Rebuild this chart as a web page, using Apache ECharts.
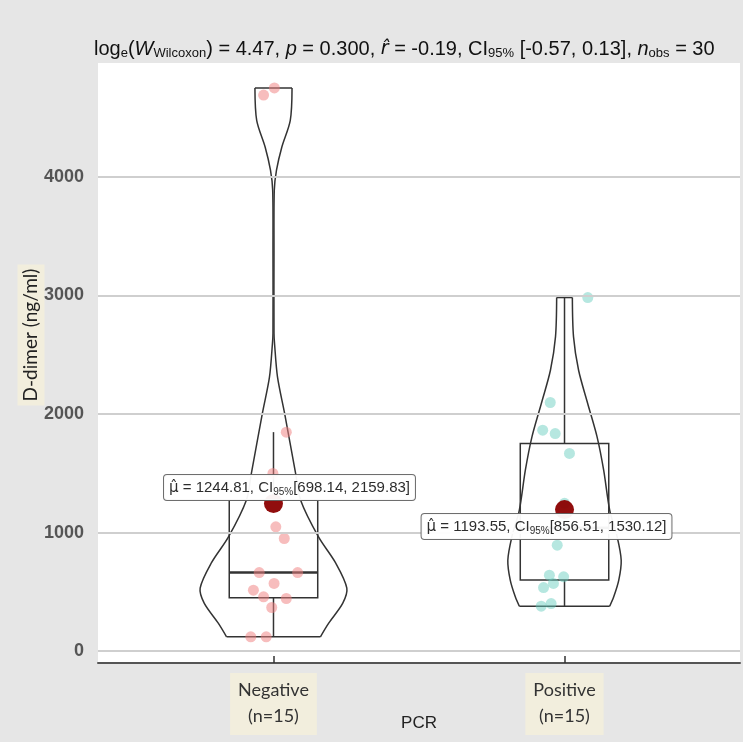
<!DOCTYPE html>
<html>
<head>
<meta charset="utf-8">
<script src="https://cdn.jsdelivr.net/npm/echarts@6/dist/echarts.min.js"></script>
<style>
html, body { margin: 0; padding: 0; background: #e6e6e6; }
#main { width: 743px; height: 742px; }
</style>
</head>
<body>
<div id="main"></div>
<script>
// groups on the x axis (positions 1 and 2)
var groupPos = [1, 2];
var groupLabels = ['Negative\n(n=15)', 'Positive\n(n=15)'];
var yTicks = [0, 1000, 2000, 3000, 4000];

// observations (ng/ml) and their jittered x position
var negValues = [4690, 4750, 1847, 1498, 1048, 950, 663, 663, 571, 514, 458, 444, 368, 121, 121];
var negJitter = [0.966, 1.003, 1.044, 0.998, 1.008, 1.037, 0.951, 1.083, 1.002, 0.931, 0.966, 1.044, 0.994, 0.922, 0.975];
var posValues = [2982, 2097, 1863, 1835, 1667, 1247, 1130, 1040, 894, 641, 627, 571, 536, 401, 379];
var posJitter = [2.080, 1.951, 1.925, 1.968, 2.017, 2.0, 2.0, 2.0, 1.975, 1.948, 1.997, 1.962, 1.928, 1.954, 1.920];

// group means and 95% CI
var means = [1244.81, 1193.55];
var ciLow = [698.14, 856.51];
var ciHigh = [2159.83, 1530.12];

// violin outline: value and relative half width (top -> bottom)
var negViolinY = [4750, 4477, 4252, 4056, 3887, 3381, 2681, 2597, 2310, 2007, 1501, 1273, 961, 742, 531, 405, 236, 121];
var negViolinW = [0.253, 0.229, 0.114, 0.041, 0.011, 0.007, 0.007, 0.014, 0.055, 0.151, 0.301, 0.37, 0.616, 0.849, 1.0, 0.945, 0.753, 0.64];
var posViolinY = [2982, 2650, 2369, 2091, 1807, 1526, 1189, 964, 767, 599, 458, 379];
var posViolinW = [0.107, 0.123, 0.192, 0.315, 0.444, 0.534, 0.616, 0.718, 0.773, 0.74, 0.671, 0.616];

var VIOLIN_HALF = 0.252;
var BOX_HALF = 0.152;

function quantile(arr, p) {
  var s = arr.slice().sort(function (a, b) { return a - b; });
  var h = (s.length - 1) * p;
  var lo = Math.floor(h);
  return s[lo] + (h - lo) * ((s[lo + 1] !== undefined ? s[lo + 1] : s[lo]) - s[lo]);
}

function boxStats(arr) {
  var q1 = quantile(arr, 0.25), med = quantile(arr, 0.5), q3 = quantile(arr, 0.75);
  var iqr = q3 - q1;
  var inside = arr.filter(function (v) { return v >= q1 - 1.5 * iqr && v <= q3 + 1.5 * iqr; });
  return [Math.min.apply(null, inside), q1, med, q3, Math.max.apply(null, inside)];
}

var stats = [boxStats(negValues), boxStats(posValues)];
var violinY = [negViolinY, posViolinY];
var violinW = [negViolinW, posViolinW];

var lineCol = '#333';

function renderGroup(params, api) {
  var i = params.dataIndex;
  var c = api.value(0);
  var vy = violinY[i], vw = violinW[i];
  var left = [], right = [];
  for (var k = 0; k < vy.length; k++) {
    left.push(api.coord([c - vw[k] * VIOLIN_HALF, vy[k]]));
    right.push(api.coord([c + vw[k] * VIOLIN_HALF, vy[k]]));
  }
  var st = stats[i];
  var bl = api.coord([c - BOX_HALF, st[3]]);
  var br = api.coord([c + BOX_HALF, st[1]]);
  var m1 = api.coord([c - BOX_HALF, st[2]]);
  var m2 = api.coord([c + BOX_HALF, st[2]]);
  var wTop = api.coord([c, st[4]]);
  var wQ3 = api.coord([c, st[3]]);
  var wQ1 = api.coord([c, st[1]]);
  var wBot = api.coord([c, st[0]]);
  var ls = { stroke: lineCol, lineWidth: 1.5, fill: null };
  var n = vy.length - 1;
  return {
    type: 'group',
    children: [
      { type: 'polyline', shape: { points: left, smooth: 0.3 }, style: ls },
      { type: 'polyline', shape: { points: right, smooth: 0.3 }, style: ls },
      { type: 'line', shape: { x1: left[0][0], y1: left[0][1], x2: right[0][0], y2: right[0][1] }, style: ls },
      { type: 'line', shape: { x1: left[n][0], y1: left[n][1], x2: right[n][0], y2: right[n][1] }, style: ls },
      { type: 'rect', shape: { x: bl[0], y: bl[1], width: br[0] - bl[0], height: br[1] - bl[1] }, style: ls },
      { type: 'line', shape: { x1: m1[0], y1: m1[1], x2: m2[0], y2: m2[1] }, style: { stroke: lineCol, lineWidth: 2.5 } },
      { type: 'line', shape: { x1: wTop[0], y1: wTop[1], x2: wQ3[0], y2: wQ3[1] }, style: ls },
      { type: 'line', shape: { x1: wQ1[0], y1: wQ1[1], x2: wBot[0], y2: wBot[1] }, style: ls }
    ]
  };
}

function zipPts(xs, ys) {
  return xs.map(function (x, k) { return [x, ys[k]]; });
}

var labelRich = {
  h: { fontSize: 15, color: '#222', fontFamily: 'DejaVu Sans' },
  t: { fontSize: 15, color: '#222', fontFamily: 'Liberation Sans' },
  s: { fontSize: 10, color: '#222', fontFamily: 'Liberation Sans', padding: [8, 0, 0, 0] }
};

var meanOffsets = [[16, -16], [-18, 17]];

var chart = echarts.init(document.getElementById('main'));
var option = {
  backgroundColor: '#e6e6e6',
  animation: false,
  title: {
    left: 89,
    top: 33,
    text: '{n|log}{s|e}{n|(}{i|W}{s|Wilcoxon}{n|) = 4.47, }{i|p}{n| = 0.300, }{h|r\u0302}{n| = -0.19, CI}{s|95%}{n| [-0.57, 0.13], }{i|n}{s|obs}{n| = 30}',
    textStyle: {
      fontWeight: 'normal',
      rich: {
        n: { fontSize: 20, color: '#111', fontWeight: 'normal', fontFamily: 'Liberation Sans' },
        i: { fontSize: 20, color: '#111', fontWeight: 'normal', fontFamily: 'Liberation Sans', fontStyle: 'italic' },
        h: { fontSize: 19, color: '#111', fontWeight: 'normal', fontFamily: 'DejaVu Sans', fontStyle: 'italic' },
        s: { fontSize: 13, color: '#111', fontWeight: 'normal', fontFamily: 'Liberation Sans', padding: [9, 0, 0, 0] }
      }
    }
  },
  grid: {
    left: 98, right: 3, top: 63, bottom: 79,
    containLabel: false,
    outerBoundsMode: 'none',
    show: true, backgroundColor: '#fff', borderWidth: 0
  },
  graphic: [{
    type: 'text',
    x: 31, y: 335,
    rotation: Math.PI / 2,
    style: {
      text: 'D-dimer (ng/ml)',
      fontSize: 19, fontFamily: 'Lato', fill: '#222',
      align: 'center', verticalAlign: 'middle',
      backgroundColor: '#f2eedd', padding: [4, 4]
    }
  }],
  xAxis: {
    type: 'value',
    min: 0.397, max: 2.603,
    name: 'PCR',
    nameLocation: 'middle',
    nameGap: 52,
    nameMoveOverlap: false,
    nameTextStyle: { fontSize: 17, color: '#222', fontFamily: 'Liberation Sans' },
    axisLine: { onZero: false, lineStyle: { color: '#555', width: 2 } },
    axisTick: { customValues: groupPos, inside: true, length: 7, lineStyle: { color: '#333', width: 1.5 } },
    axisLabel: {
      customValues: groupPos,
      margin: 10,
      formatter: function (v) { return groupLabels[Math.round(v) - 1]; },
      fontSize: 18, fontFamily: 'Lato', color: '#333', lineHeight: 26,
      backgroundColor: '#f2eedd', padding: [4, 8, 6, 8]
    },
    splitLine: { show: false }
  },
  yAxis: {
    type: 'value',
    min: -100, max: 4960,
    axisLine: { show: false },
    axisTick: { show: false },
    axisLabel: {
      customValues: yTicks,
      margin: 14,
      formatter: function (v) { return String(v); },
      fontSize: 18, fontWeight: 'bold', fontFamily: 'Liberation Sans', color: '#555'
    },
    splitLine: { show: false }
  },
  series: [
    {
      type: 'custom',
      renderItem: renderGroup,
      data: groupPos.map(function (p) { return [p]; }),
      z: 2,
      silent: true,
      markLine: {
        silent: true,
        symbol: 'none',
        label: { show: false },
        lineStyle: { color: '#cfcfcf', width: 2, type: 'solid' },
        data: yTicks.map(function (t) { return { yAxis: t }; })
      }
    },
    {
      type: 'scatter',
      data: zipPts(negJitter, negValues),
      symbolSize: 11,
      itemStyle: { color: 'rgba(240,128,128,0.65)' },
      z: 3
    },
    {
      type: 'scatter',
      data: zipPts(posJitter, posValues),
      symbolSize: 11,
      itemStyle: { color: 'rgba(102,205,190,0.6)' },
      z: 3
    },
    {
      type: 'scatter',
      symbolSize: 19,
      itemStyle: { color: '#8b0000', opacity: 0.95 },
      z: 5,
      data: groupPos.map(function (p, i) {
        return {
          value: [p, means[i]],
          label: {
            show: true,
            position: 'inside',
            offset: meanOffsets[i],
            formatter: '{h|\u03bc\u0302}{t| = ' + means[i].toFixed(2) + ', CI}{s|95%}{t|[' + ciLow[i].toFixed(2) + ', ' + ciHigh[i].toFixed(2) + ']}',
            backgroundColor: '#fff',
            borderColor: '#666',
            borderWidth: 1,
            borderRadius: 3,
            padding: [4, 5, 3, 5],
            rich: labelRich
          }
        };
      })
    }
  ]
};
chart.setOption(option);
window.addEventListener('resize', function () { chart.resize(); });
</script>
</body>
</html>
